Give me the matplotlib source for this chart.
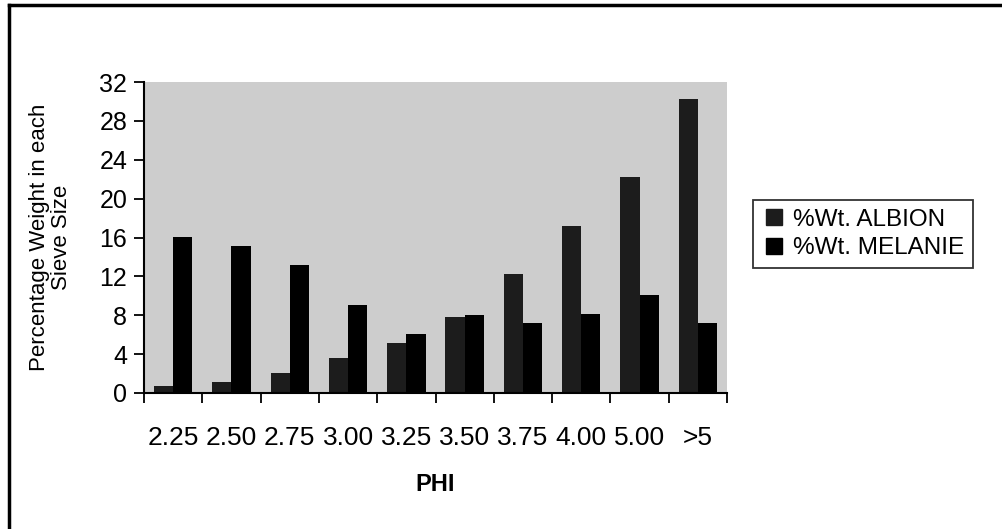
import numpy as np
import matplotlib.pyplot as plt
from matplotlib.lines import Line2D

plt.rcParams['font.family'] = ['Liberation Sans', 'DejaVu Sans']

# dados
phi = ['2.25', '2.50', '2.75', '3.00', '3.25', '3.50', '3.75', '4.00', '5.00', '>5']
albion = [0.7, 1.1, 2.1, 3.6, 5.1, 7.8, 12.2, 17.2, 22.2, 30.3]
melanie = [16.1, 15.1, 13.2, 9.1, 6.1, 8.0, 7.2, 8.1, 10.1, 7.2]

fig = plt.figure(figsize=(10.02, 5.29), dpi=100)
ax = fig.add_axes([144 / 1002, 1 - 393 / 529, (727 - 144) / 1002, (393 - 82) / 529])

x = np.arange(len(phi))
w = 0.33
ax.bar(x - w / 2, albion, width=w, color='#1c1c1c', label='%Wt. ALBION')
ax.bar(x + w / 2, melanie, width=w, color='black', label='%Wt. MELANIE')

ax.set_facecolor('#cdcdcd')
ax.set_xlim(-0.5, len(phi) - 0.5)
ax.set_ylim(0, 32)
ax.set_yticks(range(0, 33, 4))
ax.tick_params(axis='y', labelsize=18, length=7, width=1.3, direction='out', pad=5)

# ticks entre categorias, rotulos no centro
ax.set_xticks(np.arange(-0.5, len(phi), 1))
ax.set_xticklabels([])
ax.set_xticks(x, minor=True)
ax.set_xticklabels(phi, minor=True, fontsize=19)
ax.tick_params(axis='x', which='major', length=7, width=1.3, direction='out')
ax.tick_params(axis='x', which='minor', length=0, pad=24)

for s in ['top', 'right']:
    ax.spines[s].set_visible(False)
for s in ['left', 'bottom']:
    ax.spines[s].set_linewidth(1.5)

ax.set_xlabel('PHI', fontsize=17, fontweight='bold', labelpad=16)
ax.set_ylabel('Percentage Weight in each\nSieve Size', fontsize=16, labelpad=20, linespacing=1.05)

handles = [Line2D([], [], marker='s', ls='', color='#1c1c1c', markersize=11),
           Line2D([], [], marker='s', ls='', color='black', markersize=11)]
leg = fig.legend(handles, ['%Wt. ALBION', '%Wt. MELANIE'], loc='center left',
                 bbox_to_anchor=(741 / 1002, 1 - 234 / 529), fontsize=17.5,
                 frameon=True, fancybox=False, edgecolor='black',
                 handletextpad=0.3, borderpad=0.35, labelspacing=0.25, handlelength=1.0)
leg.get_frame().set_linewidth(1.3)

# moldura da figura (topo e esquerda)
fig.add_artist(Line2D([9 / 1002, 1], [1 - 5 / 529, 1 - 5 / 529], color='black', lw=2.5))
fig.add_artist(Line2D([9 / 1002, 9 / 1002], [0, 1 - 5 / 529], color='black', lw=2.5))

fig.savefig('out.png', dpi=100)
